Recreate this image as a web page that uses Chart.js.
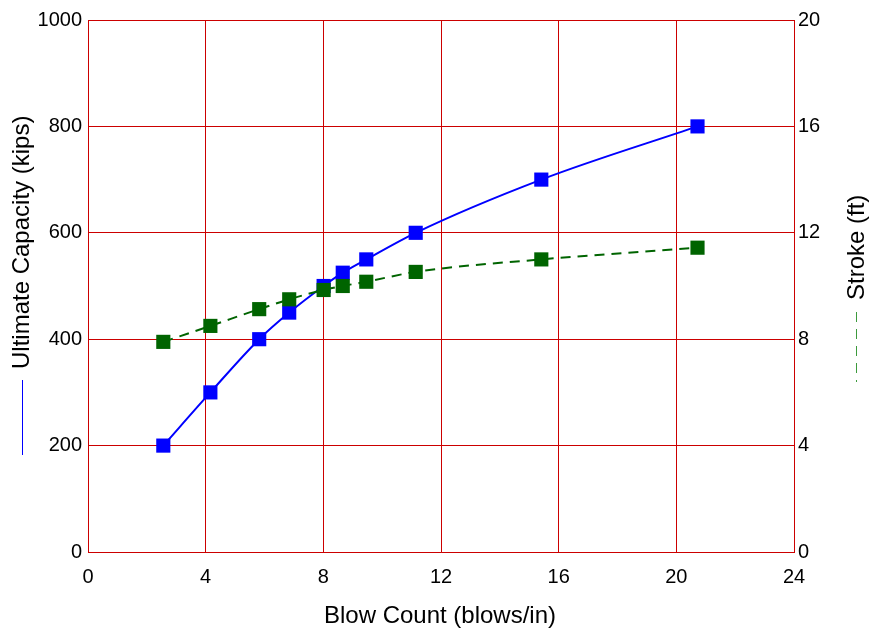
<!DOCTYPE html>
<html>
<head>
<meta charset="utf-8">
<script src="https://cdn.jsdelivr.net/npm/chart.js@4"></script>
<style>
  body { margin: 0; background: #fff; }
  .g-container { width: 871px; height: 637px; position: relative; }
</style>
</head>
<body>
<div class="g-container"><canvas id="myChart"></canvas></div>
<script>
// values
var blowCount = [2.56, 4.16, 5.82, 6.84, 8.01, 8.66, 9.46, 11.14, 15.41, 20.72];
var capacity = [200, 300, 400, 450, 500, 525, 550, 600, 700, 800];
var stroke = [7.9, 8.5, 9.13, 9.5, 9.85, 10.0, 10.16, 10.53, 11.0, 11.44];

var xLabel = 'Blow Count (blows/in)';
var leftLabel = 'Ultimate Capacity (kips)';
var rightLabel = 'Stroke (ft)';

var FONT = "'Liberation Sans', Arial, sans-serif";
var gridRed = '#cc0000';

function pairs(xs, ys) {
    var out = [];
    for (var i = 0; i < xs.length; i++) {
        out.push({ x: xs[i], y: ys[i] });
    }
    return out;
}

// axis titles drawn by hand, with the little line sample under the side ones
var axisTitles = {
    id: 'axisTitles',
    afterDraw: function (chart) {
        var ctx = chart.ctx;
        var area = chart.chartArea;
        ctx.save();
        ctx.font = '24px ' + FONT;
        ctx.fillStyle = '#000';
        ctx.textBaseline = 'alphabetic';

        // bottom
        ctx.textAlign = 'center';
        ctx.fillText(xLabel, (area.left + area.right) / 2 - 1, 622.5);

        // left
        ctx.textAlign = 'left';
        ctx.save();
        ctx.translate(28.5, 369);
        ctx.rotate(-Math.PI / 2);
        ctx.fillText(leftLabel, 0, 0);
        ctx.restore();
        ctx.strokeStyle = '#0000ff';
        ctx.lineWidth = 1;
        ctx.beginPath();
        ctx.moveTo(22.5, 380);
        ctx.lineTo(22.5, 455);
        ctx.stroke();

        // right
        ctx.save();
        ctx.translate(864, 300);
        ctx.rotate(-Math.PI / 2);
        ctx.fillText(rightLabel, 0, 0);
        ctx.restore();
        ctx.strokeStyle = '#3c9a3c';
        ctx.setLineDash([10, 7]);
        ctx.beginPath();
        ctx.moveTo(856.5, 312);
        ctx.lineTo(856.5, 382);
        ctx.stroke();
        ctx.restore();
    }
};

var tickFont = { family: FONT, size: 20 };
function plain(v) { return String(v); }

const ctx = document.getElementById('myChart').getContext('2d');
const myChart = new Chart(ctx, {
    type: 'scatter',
    data: {
        datasets: [{
            label: leftLabel,
            data: pairs(blowCount, capacity),
            yAxisID: 'y',
            showLine: true,
            borderColor: '#0000ff',
            backgroundColor: '#0000ff',
            borderWidth: 2,
            cubicInterpolationMode: 'monotone',
            pointStyle: 'rect',
            pointRadius: 10,
            pointHoverRadius: 10,
            pointBorderWidth: 0,
            order: 2
        }, {
            label: rightLabel,
            data: pairs(blowCount, stroke),
            yAxisID: 'y2',
            showLine: true,
            borderColor: '#006400',
            backgroundColor: '#006400',
            borderWidth: 2,
            borderDash: [10, 7],
            cubicInterpolationMode: 'monotone',
            pointStyle: 'rect',
            pointRadius: 10,
            pointHoverRadius: 10,
            pointBorderWidth: 0,
            order: 1
        }]
    },
    options: {
        responsive: true,
        maintainAspectRatio: false,
        animation: false,
        layout: { padding: { top: 20, left: 0, right: 0, bottom: 0 } },
        plugins: {
            legend: { display: false },
            tooltip: { enabled: false }
        },
        scales: {
            x: {
                type: 'linear',
                min: 0,
                max: 24,
                ticks: { stepSize: 4, color: '#000', font: tickFont, padding: 13, callback: plain },
                grid: { color: gridRed, lineWidth: 1, drawTicks: false },
                border: { color: gridRed },
                afterFit: function (scale) { scale.height = 85; }
            },
            y: {
                type: 'linear',
                position: 'left',
                min: 0,
                max: 1000,
                ticks: { stepSize: 200, color: '#000', font: tickFont, padding: 6, callback: plain },
                grid: { color: gridRed, lineWidth: 1, drawTicks: false },
                border: { color: gridRed },
                afterFit: function (scale) { scale.width = 88; }
            },
            y2: {
                type: 'linear',
                position: 'right',
                min: 0,
                max: 20,
                ticks: { stepSize: 4, color: '#000', font: tickFont, padding: 4, callback: plain },
                grid: { display: false, drawTicks: false },
                border: { color: gridRed },
                afterFit: function (scale) { scale.width = 77; }
            }
        }
    },
    plugins: [axisTitles]
});
</script>
</body>
</html>
